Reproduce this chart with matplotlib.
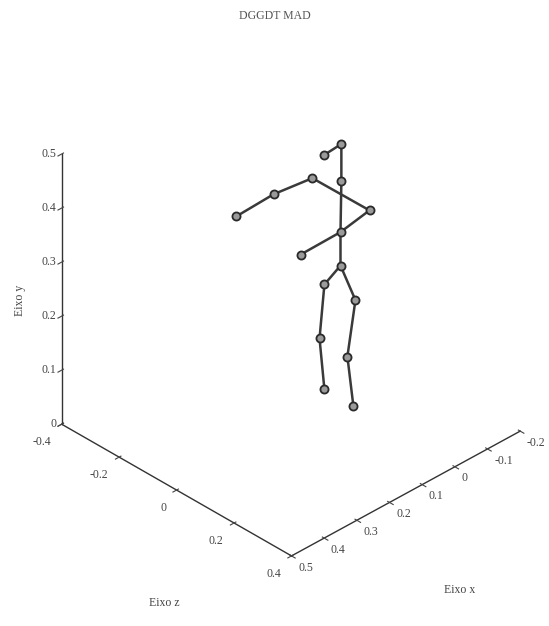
import matplotlib
matplotlib.use("Agg")
import matplotlib.pyplot as plt

# joint positions of the skeleton (x, y, z)
joints = ["head_top", "head", "neck", "l_shoulder", "l_elbow", "l_hand",
          "r_shoulder", "r_elbow", "r_hand", "pelvis",
          "l_hip", "l_knee", "l_foot", "r_hip", "r_knee", "r_foot"]
xs = [0.0, 0.0, 0.0, 0.0, 0.0, 0.0,
      0.0, 0.0, 0.0, 0.0,
      0.0, 0.0, 0.0, 0.0, 0.0, 0.0]
ys = [0.005, -0.057, 0.005, -0.096, -0.231, -0.360,
      0.103, 0.002, -0.137, 0.002,
      -0.054, -0.071, -0.054, 0.054, 0.026, 0.047]
zs = [0.477, 0.437, 0.408, 0.383, 0.312, 0.232,
      0.384, 0.313, 0.229, 0.251,
      0.199, 0.094, 0.005, 0.203, 0.090, 0.004]

# bones as chains of joint names
chains = [
    ["head", "head_top", "neck", "r_elbow", "pelvis"],
    ["l_hand", "l_elbow", "l_shoulder", "r_shoulder", "r_elbow", "r_hand"],
    ["pelvis", "l_hip", "l_knee", "l_foot"],
    ["pelvis", "r_hip", "r_knee", "r_foot"],
]

x_ticks = [-0.2, -0.1, 0, 0.1, 0.2, 0.3, 0.4, 0.5]
y_ticks = [-0.4, -0.2, 0, 0.2, 0.4]
z_ticks = [0, 0.1, 0.2, 0.3, 0.4, 0.5]

plt.rcParams["font.family"] = ["Liberation Serif", "DejaVu Serif"]

fig = plt.figure(figsize=(5.49, 6.26), dpi=100)
ax = fig.add_axes([0.0164, 0.0208, 1.0, 1.0], projection="3d", proj_type="ortho")

for chain in chains:
    idx = [joints.index(j) for j in chain]
    ax.plot([xs[i] for i in idx], [ys[i] for i in idx], [zs[i] for i in idx],
            color="#3a3a3a", lw=1.8)
ax.scatter(xs, ys, zs, s=34, facecolor="#9a9a9a", edgecolor="#2a2a2a",
           linewidths=1.3, depthshade=False, zorder=5)

ax.set_xlim(-0.2, 0.5)
ax.set_ylim(-0.4, 0.4)
ax.set_zlim(0, 0.5)
ax.set_xticks(x_ticks)
ax.set_yticks(y_ticks)
ax.set_zticks(z_ticks)
ax.set_xticklabels(["-0.2", "-0.1", "0", "0.1", "0.2", "0.3", "0.4", "0.5"])
ax.set_yticklabels(["-0.4", "-0.2", "0", "0.2", "0.4"])
ax.set_zticklabels(["0", "0.1", "0.2", "0.3", "0.4", "0.5"])

ax.view_init(elev=34, azim=45.7)
ax.set_box_aspect((1, 1.03, 1.02), zoom=0.995)
ax.grid(False)
for axis in (ax.xaxis, ax.yaxis, ax.zaxis):
    axis.set_pane_color((1, 1, 1, 0))
    axis.line.set_color("#333333")
    axis.line.set_linewidth(1.0)
    axis.set_tick_params(labelsize=8.5, colors="#444444")

# tick label placement: x labels hang to the right, y and z labels to the left
ax.xaxis.set_tick_params(pad=-2)
ax.yaxis.set_tick_params(pad=1.5)
ax.zaxis.set_tick_params(pad=-5.5)
for lab in ax.xaxis.get_majorticklabels():
    lab.set_ha("left")
    lab.set_va("center")
for lab in ax.yaxis.get_majorticklabels():
    lab.set_ha("right")
    lab.set_va("center")
for lab in ax.zaxis.get_majorticklabels():
    lab.set_ha("right")
    lab.set_va("center")

# axis titles stay horizontal like the original figure
fig.text(0.838, 0.057, "Eixo x", ha="center", va="center", fontsize=8.5, color="#444444")
fig.text(0.300, 0.037, "Eixo z", ha="center", va="center", fontsize=8.5, color="#444444")
fig.text(0.036, 0.52, "Eixo y", ha="center", va="center", rotation=90,
         fontsize=8.5, color="#444444")
fig.text(0.5, 0.975, "DGGDT MAD", ha="center", va="center",
         fontsize=8.5, color="#555555")

fig.savefig("out.png", dpi=100)
